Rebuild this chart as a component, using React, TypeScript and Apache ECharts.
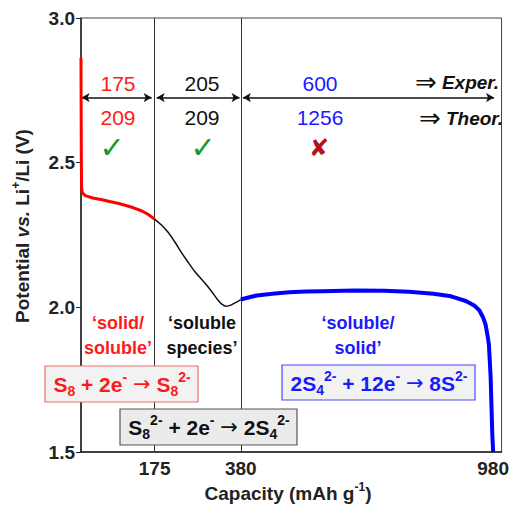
import React, { useEffect, useRef } from "react";
import * as echarts from "echarts";

const F = "'Liberation Sans', Arial, sans-serif";

// Discharge curve segments (capacity mAh/g, potential V)
const redCurve: [number, number][] = [
  [0, 2.862], [0.3, 2.7], [0.8, 2.5], [1.5, 2.415], [3, 2.396], [10, 2.386],
  [28, 2.378], [50, 2.372], [68, 2.366], [90, 2.359], [107, 2.352], [125, 2.344],
  [145, 2.333], [160, 2.321], [175, 2.305],
];
const blackCurve: [number, number][] = [
  [175, 2.305], [190, 2.286], [208, 2.258], [224, 2.224], [239, 2.189], [255, 2.155],
  [270, 2.125], [286, 2.098], [301, 2.073], [314, 2.048], [324, 2.028], [334, 2.012],
  [344, 2.004], [353, 2.006], [363, 2.013], [372, 2.02], [380, 2.027],
];
const blueCurve: [number, number][] = [
  [380, 2.027], [398, 2.034], [418, 2.041], [455, 2.047], [495, 2.052], [535, 2.055],
  [573, 2.056], [651, 2.058], [720, 2.057], [780, 2.054], [838, 2.047], [880, 2.038],
  [915, 2.022], [935, 2.006], [947, 1.99], [956, 1.965], [962, 1.94], [967, 1.9],
  [970, 1.87], [974, 1.76], [976, 1.66], [978, 1.56], [980, 1.5],
];

const xTicks = [175, 380, 980];
const dividers = [175, 380];
const arrowY = 2.725;
const arrowSpans: [number, number][] = [[1.5, 168], [180, 377], [385, 982]];

const expValues = ["175", "205", "600"];
const theoValues = ["209", "209", "1256"];
const regionColors = ["#ff1a1a", "#111111", "#1a1aff"];
const regionCenters = [118, 202, 320];

export default function App() {
  const ref = useRef<HTMLDivElement>(null);
  useEffect(() => {
    if (!ref.current) return;
    const chart = echarts.init(ref.current, null, { renderer: "svg" });

    const eqRich = (color: string) => ({
      n: { fontSize: 21, fontWeight: "bold", fontFamily: F, fill: color, lineHeight: 28 },
      ar: { fontSize: 21, fontFamily: "'DejaVu Sans'", fill: color, lineHeight: 28 },
      sb: { fontSize: 14, fontWeight: "bold", fontFamily: F, fill: color, lineHeight: 12, verticalAlign: "bottom" },
      sp: { fontSize: 14, fontWeight: "bold", fontFamily: F, fill: color, lineHeight: 12, verticalAlign: "top" },
    });

    const txt = (x: number, y: number, text: string, fill: string, extra: any = {}) => ({
      type: "text",
      x,
      y,
      z: 100,
      style: {
        text,
        fill,
        fontFamily: F,
        fontSize: 21,
        align: "center",
        verticalAlign: "middle",
        ...extra,
      },
    });

    const graphics: any[] = [];
    regionCenters.forEach((cx, i) => {
      graphics.push(txt(cx, 83, expValues[i], regionColors[i]));
      graphics.push(txt(cx, 117, theoValues[i], regionColors[i]));
    });
    graphics.push(txt(112, 147, "✓", "#1a9630", { fontFamily: "'DejaVu Sans'", fontSize: 30, fontWeight: "bold" }));
    graphics.push(txt(203, 147, "✓", "#1a9630", { fontFamily: "'DejaVu Sans'", fontSize: 30, fontWeight: "bold" }));
    graphics.push(txt(319, 148, "✘", "#b3121a", { fontFamily: "'DejaVu Sans'", fontSize: 24 }));

    const arrowRich = {
      a: { fontSize: 26, fontFamily: "'DejaVu Sans'", fill: "#111" },
      w: { fontSize: 19, fontFamily: F, fontWeight: "bold", fontStyle: "italic", fill: "#111" },
    };
    graphics.push({
      type: "text", x: 499, y: 82, z: 100,
      style: { text: "{a|⇒}{w| Exper.}", rich: arrowRich, align: "right", verticalAlign: "middle" },
    });
    graphics.push({
      type: "text", x: 503, y: 118, z: 100,
      style: { text: "{a|⇒}{w| Theor.}", rich: arrowRich, align: "right", verticalAlign: "middle" },
    });

    const lbl = { fontWeight: "bold", fontSize: 18 };
    graphics.push(txt(118, 323, "‘solid/", "#ff1a1a", lbl));
    graphics.push(txt(118, 348, "soluble’", "#ff1a1a", lbl));
    graphics.push(txt(202, 323, "‘soluble", "#111", lbl));
    graphics.push(txt(202, 348, "species’", "#111", lbl));
    graphics.push(txt(358, 323, "‘soluble/", "#1a1aff", lbl));
    graphics.push(txt(358, 348, "solid’", "#1a1aff", lbl));

    // reaction boxes
    graphics.push({ type: "rect", z: 90, shape: { x: 45, y: 366, width: 153, height: 36 }, style: { fill: "#f2f2f2", stroke: "#f06a6a", lineWidth: 1.2 } });
    graphics.push({ type: "rect", z: 90, shape: { x: 120, y: 409, width: 177, height: 36 }, style: { fill: "#ebebeb", stroke: "#555", lineWidth: 1.2 } });
    graphics.push({ type: "rect", z: 90, shape: { x: 282, y: 365, width: 193, height: 35 }, style: { fill: "#f2f2f2", stroke: "#4a4aff", lineWidth: 1.2 } });
    graphics.push({
      type: "text", x: 122, y: 384, z: 100,
      style: { text: "{n|S}{sb|8}{n| + 2e}{sp|-}{n| }{ar|→}{n| S}{sb|8}{sp|2-}", rich: eqRich("#ff1a1a"), align: "center", verticalAlign: "middle" },
    });
    graphics.push({
      type: "text", x: 209, y: 427, z: 100,
      style: { text: "{n|S}{sb|8}{sp|2-}{n| + 2e}{sp|-}{n| }{ar|→}{n| 2S}{sb|4}{sp|2-}", rich: eqRich("#111"), align: "center", verticalAlign: "middle" },
    });
    graphics.push({
      type: "text", x: 379, y: 383, z: 100,
      style: { text: "{n|2S}{sb|4}{sp|2-}{n| + 12e}{sp|-}{n| }{ar|→}{n| 8S}{sp|2-}", rich: eqRich("#1a1aff"), align: "center", verticalAlign: "middle" },
    });

    // axis titles
    const titleRich = {
      b: { fontSize: 19, fontWeight: "bold", fontFamily: F, fill: "#222", lineHeight: 24 },
      i: { fontSize: 19, fontWeight: "bold", fontStyle: "italic", fontFamily: F, fill: "#222", lineHeight: 24 },
      sp: { fontSize: 12, fontWeight: "bold", fontFamily: F, fill: "#222", lineHeight: 10, verticalAlign: "top" },
    };
    graphics.push({
      type: "text", x: 22, y: 226, rotation: Math.PI / 2, z: 100,
      style: { text: "{b|Potential }{i|vs.}{b| Li}{sp|+}{b|/Li (V)}", rich: titleRich, align: "center", verticalAlign: "middle" },
    });
    graphics.push({
      type: "text", x: 288, y: 493, z: 100,
      style: { text: "{b|Capacity (mAh g}{sp|-1}{b|)}", rich: titleRich, align: "center", verticalAlign: "middle" },
    });

    const option: any = {
      animation: false,
      backgroundColor: "#ffffff",
      grid: { left: 81, right: 3, top: 18, bottom: 54, show: true, borderColor: "#444", borderWidth: 1 },
      xAxis: {
        type: "value",
        min: 0,
        max: 1000,
        axisLine: { show: true, lineStyle: { color: "#222", width: 1.5 } },
        axisTick: { show: true, inside: true, length: 5, customValues: xTicks, lineStyle: { color: "#222" } },
        axisLabel: { customValues: xTicks, fontSize: 19, fontWeight: "bold", fontFamily: F, color: "#222", margin: 7 },
        splitLine: { show: false },
      },
      yAxis: {
        type: "value",
        min: 1.5,
        max: 3.0,
        interval: 0.5,
        axisLine: { show: true, lineStyle: { color: "#222", width: 1.5 } },
        axisTick: { show: true, inside: false, length: 5, lineStyle: { color: "#222" } },
        axisLabel: { fontSize: 19, fontWeight: "bold", fontFamily: F, color: "#222", margin: 6, formatter: (v: number) => v.toFixed(1) },
        splitLine: { show: false },
      },
      series: [
        {
          type: "line", data: redCurve, showSymbol: false, lineStyle: { color: "#ff0000", width: 3 }, z: 5,
        },
        {
          type: "line", data: blackCurve, showSymbol: false, smooth: 0.3, lineStyle: { color: "#111", width: 1.5 }, z: 5,
          markLine: {
            silent: true,
            animation: false,
            label: { show: false },
            symbol: ["none", "none"],
            lineStyle: { color: "#333", width: 1, type: "solid" },
            data: dividers.map((x) => ({ xAxis: x })),
          },
        },
        {
          type: "line", data: blueCurve, showSymbol: false, lineStyle: { color: "#0000ff", width: 4 }, z: 5,
          markLine: {
            silent: true,
            animation: false,
            label: { show: false },
            symbol: ["arrow", "arrow"],
            symbolSize: [7, 8],
            lineStyle: { color: "#111", width: 1.5, type: "solid" },
            data: arrowSpans.map(([a, b]) => [{ coord: [a, arrowY] }, { coord: [b, arrowY] }]),
          },
        },
      ],
      graphic: graphics,
    };
    chart.setOption(option);
    return () => chart.dispose();
  }, []);
  return <div ref={ref} style={{ position: "fixed", left: 0, top: 0, width: 512, height: 506 }} />;
}
